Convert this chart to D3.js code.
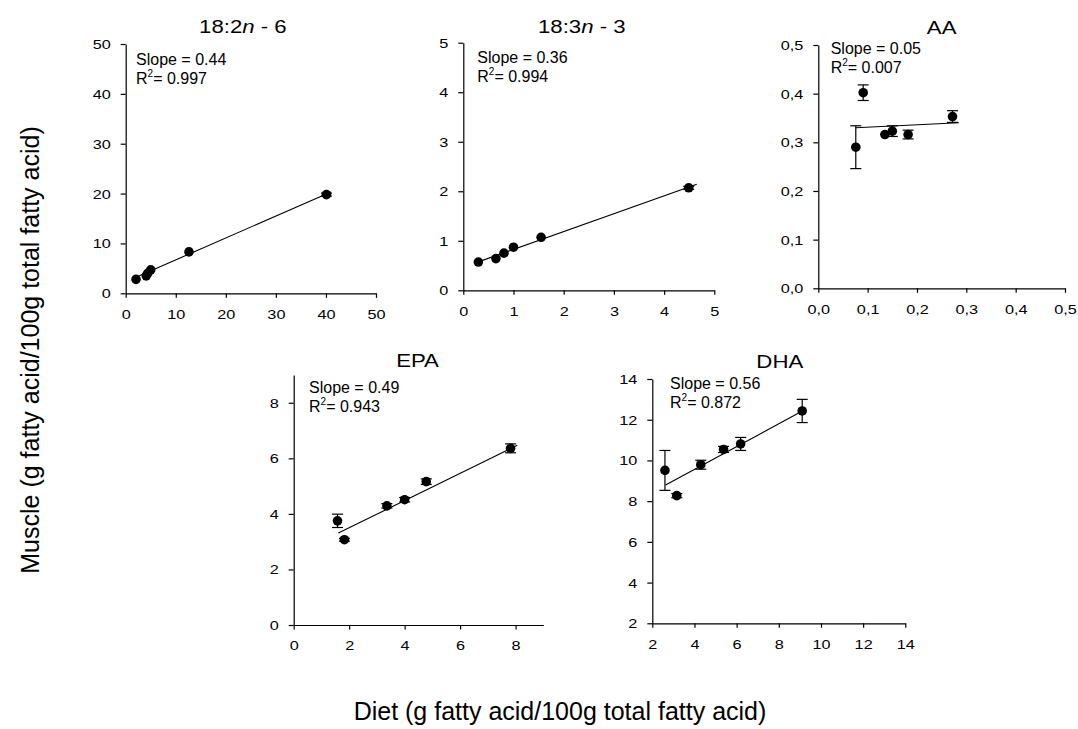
<!DOCTYPE html>
<html>
<head>
<meta charset="utf-8">
<script src="https://cdn.jsdelivr.net/npm/d3@7"></script>
<style>
  body { margin: 0; background: #fff; }
  text { font-family: Arial, "Liberation Sans", Helvetica, sans-serif; fill: #000; }
</style>
</head>
<body>
<svg id="chart" width="1078" height="729"></svg>
<script>
// Diet vs muscle fatty acid content, one panel per fatty acid

const fattyAcids = ["18:2n-6", "18:3n-3", "AA", "EPA", "DHA"];

// Diet content (x), muscle content (y) and error (SEM) per fatty acid
const dietLA  = [2.06, 4.1, 4.4, 5.0, 12.64, 40.1];
const muscleLA = [2.8, 3.5, 4.0, 4.7, 8.3, 19.8];
const semLA   = [0, 0, 0, 0, 0, 0.3];

const dietALA  = [0.30, 0.65, 0.81, 1.00, 1.55, 4.49];
const muscleALA = [0.57, 0.64, 0.75, 0.87, 1.07, 2.07];
const semALA   = [0, 0, 0, 0, 0, 0.03];

const dietAA  = [0.076, 0.091, 0.135, 0.150, 0.182, 0.272];
const muscleAA = [0.290, 0.402, 0.316, 0.323, 0.316, 0.353];
const semAA   = [0.044, 0.016, 0, 0.011, 0.009, 0.012];

const dietEPA  = [1.58, 1.83, 3.36, 4.00, 4.78, 7.82];
const muscleEPA = [3.75, 3.07, 4.29, 4.51, 5.16, 6.36];
const semEPA   = [0.24, 0.05, 0.08, 0.08, 0.10, 0.16];

const dietDHA  = [2.60, 3.16, 4.30, 5.38, 6.19, 9.11];
const muscleDHA = [9.51, 8.27, 9.79, 10.54, 10.81, 12.43];
const semDHA   = [0.98, 0.10, 0.22, 0.15, 0.32, 0.57];

// Linear regression results
const slopes     = [0.44, 0.36, 0.05, 0.49, 0.56];
const intercepts = [2.30, 0.466, 0.326, 2.52, 7.32];
const rSquared   = ["0.997", "0.994", "0.007", "0.943", "0.872"];
const fitFrom    = [2.06, 0.30, 0.076, 1.61, 2.63];
const fitTo      = [41, 4.65, 0.285, 8.06, 9.03];

// Axis domains and ticks
const xDomains = [[0, 50], [0, 5], [0, 0.5], [0, 9], [2, 14]];
const yDomains = [[0, 50], [0, 5], [0, 0.5], [0, 9], [2, 14]];
const xTickValues = [[0, 10, 20, 30, 40, 50], [0, 1, 2, 3, 4, 5], [0, 0.1, 0.2, 0.3, 0.4, 0.5], [0, 2, 4, 6, 8], [2, 4, 6, 8, 10, 12, 14]];
const yTickValues = [[0, 10, 20, 30, 40, 50], [0, 1, 2, 3, 4, 5], [0, 0.1, 0.2, 0.3, 0.4, 0.5], [0, 2, 4, 6, 8], [2, 4, 6, 8, 10, 12, 14]];

const yAxisTitle = "Muscle (g fatty acid/100g total fatty acid)";
const xAxisTitle = "Diet (g fatty acid/100g total fatty acid)";

// Panel frames in page pixels
const frames = [
  { left: 125.7, right: 376.0, top: 44.0,  bottom: 293.3, titleDx: -8, titleDy: -11, noteDx: 10.3, noteDy: 20.5 },
  { left: 463.3, right: 714.3, top: 42.7,  bottom: 290.3, titleDx: -7, titleDy: -10, noteDx: 14.0, noteDy: 20.6 },
  { left: 818.3, right: 1065.0, top: 45.0, bottom: 288.3, titleDx: 0,  titleDy: -11, noteDx: 12.4, noteDy: 9.0 },
  { left: 293.7, right: 543.3, top: 375.0, bottom: 625.0, titleDx: -1, titleDy: -8,  noteDx: 15.3, noteDy: 18.3 },
  { left: 652.3, right: 905.3, top: 379.0, bottom: 623.3, titleDx: 1,  titleDy: -11, noteDx: 17.7, noteDy: 10.3 }
];

const diets   = [dietLA, dietALA, dietAA, dietEPA, dietDHA];
const muscles = [muscleLA, muscleALA, muscleAA, muscleEPA, muscleDHA];
const sems    = [semLA, semALA, semAA, semEPA, semDHA];

const svg = d3.select("#chart");
const tickStretch = 1.25;
const titleStretch = 1.2;

function tickFormatFor(i) {
  if (i === 2) return d => d3.format(".1f")(d).replace(".", ",");
  return d3.format("d");
}

function drawTitle(g, name, cx, baseline) {
  const t = g.append("text")
    .attr("transform", `translate(${cx},${baseline}) scale(${titleStretch},1)`)
    .attr("text-anchor", "middle")
    .attr("font-size", 18.5);
  const m = name.match(/^(\d+:\d+)n-(\d+)$/);
  if (m) {
    t.append("tspan").text(m[1]);
    t.append("tspan").attr("font-style", "italic").text("n");
    t.append("tspan").text(" - " + m[2]);
  } else {
    t.text(name);
  }
}

frames.forEach((f, i) => {
  const x = d3.scaleLinear().domain(xDomains[i]).range([f.left, f.right]);
  const y = d3.scaleLinear().domain(yDomains[i]).range([f.bottom, f.top]);
  const g = svg.append("g");
  const fmt = tickFormatFor(i);

  // x axis
  const gx = g.append("g")
    .attr("transform", `translate(0,${f.bottom})`)
    .call(d3.axisBottom(x).tickValues(xTickValues[i]).tickFormat(fmt)
      .tickSizeInner(4.5).tickSizeOuter(0));
  gx.attr("font-size", null).attr("font-family", null);
  gx.selectAll("path, line").attr("stroke", "#000").attr("stroke-width", 1.2);
  gx.selectAll("text")
    .attr("font-size", 13)
    .attr("y", 16)
    .attr("dy", "0.71em")
    .attr("transform", `scale(${tickStretch},1)`);

  // y axis
  const gy = g.append("g")
    .attr("transform", `translate(${f.left},0)`)
    .call(d3.axisLeft(y).tickValues(yTickValues[i]).tickFormat(fmt)
      .tickSizeInner(5).tickSizeOuter(0));
  gy.attr("font-size", null).attr("font-family", null);
  gy.selectAll("path, line").attr("stroke", "#000").attr("stroke-width", 1.2);
  gy.selectAll("text")
    .attr("font-size", 13)
    .attr("x", -15 / tickStretch)
    .attr("dy", "0.34em")
    .attr("transform", `scale(${tickStretch},1)`);

  // title
  drawTitle(g, fattyAcids[i], (f.left + f.right) / 2 + f.titleDx, f.top + f.titleDy);

  // regression line
  const fitLine = d3.line().x(d => x(d)).y(d => y(slopes[i] * d + intercepts[i]));
  g.append("path")
    .attr("d", fitLine([fitFrom[i], fitTo[i]]))
    .attr("fill", "none")
    .attr("stroke", "#000")
    .attr("stroke-width", 1.1);

  const pts = diets[i].map((d, k) => ({ x: d, y: muscles[i][k], e: sems[i][k] }));

  // error bars
  const eb = g.append("g").attr("stroke", "#000").attr("stroke-width", 1.2);
  pts.filter(p => p.e > 0).forEach(p => {
    const px = x(p.x), y1 = y(p.y - p.e), y2 = y(p.y + p.e);
    eb.append("line").attr("x1", px).attr("x2", px).attr("y1", y1).attr("y2", y2);
    eb.append("line").attr("x1", px - 5.5).attr("x2", px + 5.5).attr("y1", y1).attr("y2", y1);
    eb.append("line").attr("x1", px - 5.5).attr("x2", px + 5.5).attr("y1", y2).attr("y2", y2);
  });

  // points
  g.append("g").selectAll("circle")
    .data(pts)
    .join("circle")
    .attr("cx", d => x(d.x))
    .attr("cy", d => y(d.y))
    .attr("r", 4.8)
    .attr("fill", "#000");

  // regression annotation
  const nx = f.left + f.noteDx, ny = f.top + f.noteDy;
  g.append("text")
    .attr("x", nx).attr("y", ny)
    .attr("font-size", 16)
    .text(`Slope = ${slopes[i].toFixed(2)}`);
  const r = g.append("text")
    .attr("x", nx).attr("y", ny + 19)
    .attr("font-size", 16);
  r.append("tspan").text("R");
  r.append("tspan").attr("font-size", 10).attr("dy", -7).text("2");
  r.append("tspan").attr("dy", 7).text("= " + rSquared[i]);
});

// shared axis titles
svg.append("text")
  .attr("transform", "translate(39,350) rotate(-90)")
  .attr("text-anchor", "middle")
  .attr("font-size", 25)
  .text(yAxisTitle);

svg.append("text")
  .attr("x", 560).attr("y", 720)
  .attr("text-anchor", "middle")
  .attr("font-size", 25)
  .text(xAxisTitle);
</script>
</body>
</html>
